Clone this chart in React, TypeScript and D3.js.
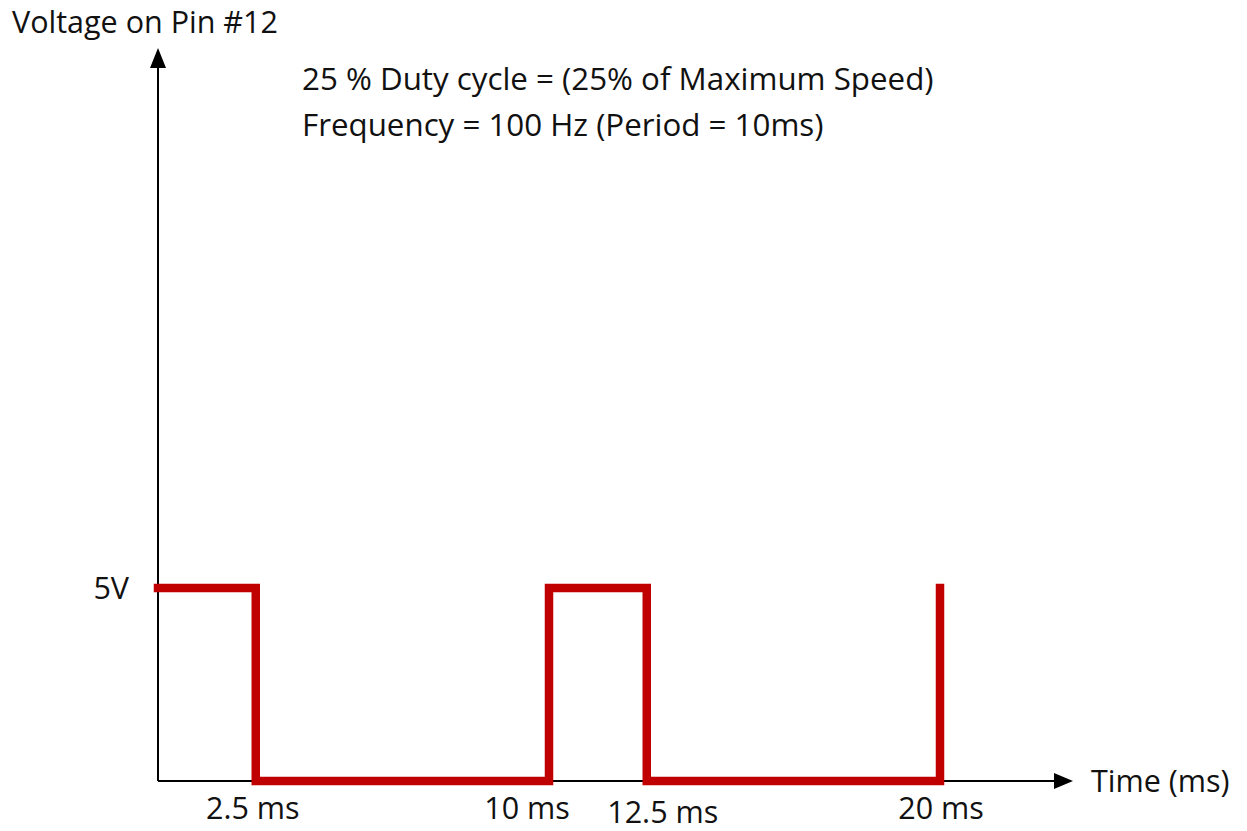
import React, { useEffect, useRef } from "react";
import * as d3 from "d3";

// pulse train: time (ms) where the level changes, and the level after it (V)
const times = [0, 2.5, 10, 12.5, 20];
const volts = [5, 0, 5, 0, 5];

const tickTimes = [2.5, 10, 12.5, 20];
const tickLabels = ["2.5 ms", "10 ms", "12.5 ms", "20 ms"];
// small hand nudges of the tick labels as they sit in the picture
const tickNudgeX = [-3, -22, 16, 1];
const tickNudgeY = [0, 0, 4, 0];

const notes = [
  "25 % Duty cycle = (25% of Maximum Speed)",
  "Frequency = 100 Hz (Period = 10ms)",
];

const W = 1247;
const H = 831;
const FONT = "'Open Sans', 'Noto Sans', sans-serif";

const App = () => {
  const ref = useRef<SVGSVGElement | null>(null);

  useEffect(() => {
    drawChart();
  }, []);

  const drawChart = () => {
    const svg = d3.select(ref.current);
    svg.selectAll("*").remove();

    const x0 = 158;
    const yBase = 781;
    const x = d3.scaleLinear().domain([0, 20]).range([x0, 940]);
    const y = d3.scaleLinear().domain([0, 5]).range([yBase, 588]);

    const axisTop = 48;
    const axisRight = 1073;

    // axes with arrow heads
    svg.append("line")
      .attr("x1", x0).attr("y1", yBase)
      .attr("x2", x0).attr("y2", axisTop + 16)
      .attr("stroke", "#000").attr("stroke-width", 2);
    svg.append("path")
      .attr("d", `M${x0},${axisTop} L${x0 - 8},${axisTop + 20} L${x0 + 8},${axisTop + 20} Z`)
      .attr("fill", "#000");

    svg.append("line")
      .attr("x1", x0).attr("y1", yBase)
      .attr("x2", axisRight - 16).attr("y2", yBase)
      .attr("stroke", "#000").attr("stroke-width", 2);
    svg.append("path")
      .attr("d", `M${axisRight},${yBase} L${axisRight - 19},${yBase - 8} L${axisRight - 19},${yBase + 8} Z`)
      .attr("fill", "#000");

    // the pwm signal
    const pts: [number, number][] = times.map((t, i) => [t, volts[i]]);
    const line = d3.line<[number, number]>()
      .x(d => x(d[0]))
      .y(d => y(d[1]))
      .curve(d3.curveStepAfter);
    // stepAfter ends flat at the last point, so finish the final rising edge by hand
    const last = pts[pts.length - 1];
    const path = line([...pts.slice(0, -1), [last[0], 0], last]);
    svg.append("path")
      .attr("d", path)
      .attr("fill", "none")
      .attr("stroke", "#C00000")
      .attr("stroke-width", 8.5)
      .attr("stroke-linejoin", "miter")
      .attr("stroke-linecap", "square");

    const txt = (s: string, tx: number, ty: number, anchor = "start", size = 30.5) =>
      svg.append("text")
        .attr("x", tx).attr("y", ty)
        .attr("text-anchor", anchor)
        .attr("font-family", FONT)
        .attr("font-size", size)
        .attr("fill", "#111")
        .text(s);

    txt("Voltage on Pin #12", 12, 33);
    txt("Time (ms)", 1091, 792);
    txt("5V", 129, y(5) + 11, "end");

    tickTimes.forEach((t, i) => {
      txt(tickLabels[i], x(t) + tickNudgeX[i], 819 + tickNudgeY[i], "middle");
    });

    notes.forEach((s, i) => txt(s, 302, 90 + i * 46, "start", 31.3));
  };

  return (
    <div>
      <svg
        ref={ref}
        width={W}
        height={H}
        style={{ position: "absolute", left: 0, top: 0, background: "#fff" }}
      />
    </div>
  );
};

export default App;
